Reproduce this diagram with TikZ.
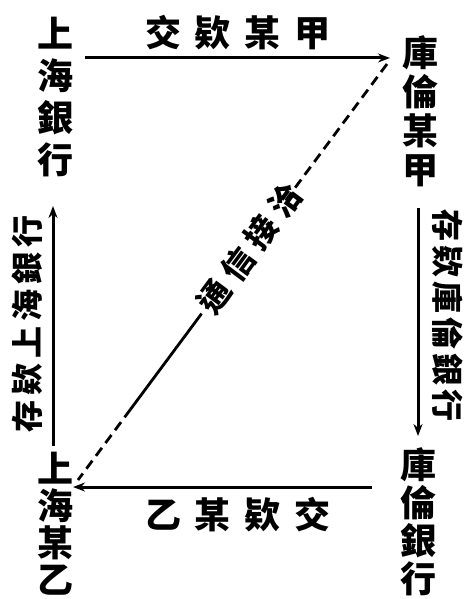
\documentclass[tikz,border=0pt]{standalone}
\usepackage{fontspec}
\newfontfamily\cjk{Noto Sans CJK TC}
\usetikzlibrary{arrows.meta,calc}
\tikzset{
  vstack/.style={inner sep=0pt, align=center, font=\cjk\bfseries\fontsize{36}{#1}\selectfont},
  hlabel/.style={inner sep=0pt, font=\cjk\bfseries\fontsize{36}{36}\selectfont},
  rlabel/.style={inner sep=0pt, font=\cjk\bfseries\fontsize{32}{32}\selectfont},
  flow/.style={line width=3pt, -{Stealth[length=12pt,width=9pt]}},
  dashline/.style={line width=2.8pt, dash pattern=on 10pt off 6pt},
  solidline/.style={line width=2.8pt}
}
\begin{document}
\begin{tikzpicture}[x=1pt,y=-1pt]
\useasboundingbox[fill=white] (0,0) rectangle (467,599);
% corner nodes
\node[vstack=42] (shbank) at (55,97) {上\\海\\銀\\行};
\node[vstack=39] (ljia) at (420,111) {庫\\倫\\某\\甲};
\node[vstack=37] (shyi) at (55,524) {上\\海\\某\\乙};
\node[vstack=38] (lbank) at (418,522) {庫\\倫\\銀\\行};
% arrow end points
\coordinate (t1) at (85,58);
\coordinate (t2) at (390,58);
\coordinate (r1) at (418,208);
\coordinate (r2) at (418,436);
\coordinate (b1) at (372,487);
\coordinate (b2) at (73,487);
\coordinate (l1) at (53,446);
\coordinate (l2) at (53,206);
\draw[flow] (t1) -- (t2);
\draw[flow] (r1) -- (r2);
\draw[flow] (b1) -- (b2);
\draw[flow] (l1) -- (l2);
% labels
\node[hlabel] (toplab) at (238,33) {交\hspace{14pt}欵\hspace{14pt}某\hspace{14pt}甲};
\node[hlabel] (botlab) at (238,515) {乙\hspace{14pt}某\hspace{14pt}欵\hspace{14pt}交};
\node[rlabel, rotate=-90] (rightlab) at (448,315) {存\hspace{4pt}欵\hspace{4pt}庫\hspace{4pt}倫\hspace{4pt}銀\hspace{4pt}行};
\node[rlabel, rotate=90] (leftlab) at (27,324) {存\hspace{5pt}欵\hspace{5pt}上\hspace{5pt}海\hspace{5pt}銀\hspace{5pt}行};
% diagonal
\coordinate (dA) at (387,64);
\coordinate (dB) at (78,480);
\coordinate (d1) at ($(dA)!0.33!(dB)$);
\coordinate (d2) at ($(dA)!0.60!(dB)$);
\coordinate (d3) at ($(dA)!0.83!(dB)$);
\node[rlabel, rotate=53.4] (diaglab) at ($(dA)!0.444!(dB)$) {通\hspace{8pt}信\hspace{8pt}接\hspace{8pt}洽};
\draw[dashline] (dA) -- (d1);
\draw[solidline] (d2) -- (d3);
\draw[dashline] (d3) -- (dB);
\end{tikzpicture}
\end{document}
